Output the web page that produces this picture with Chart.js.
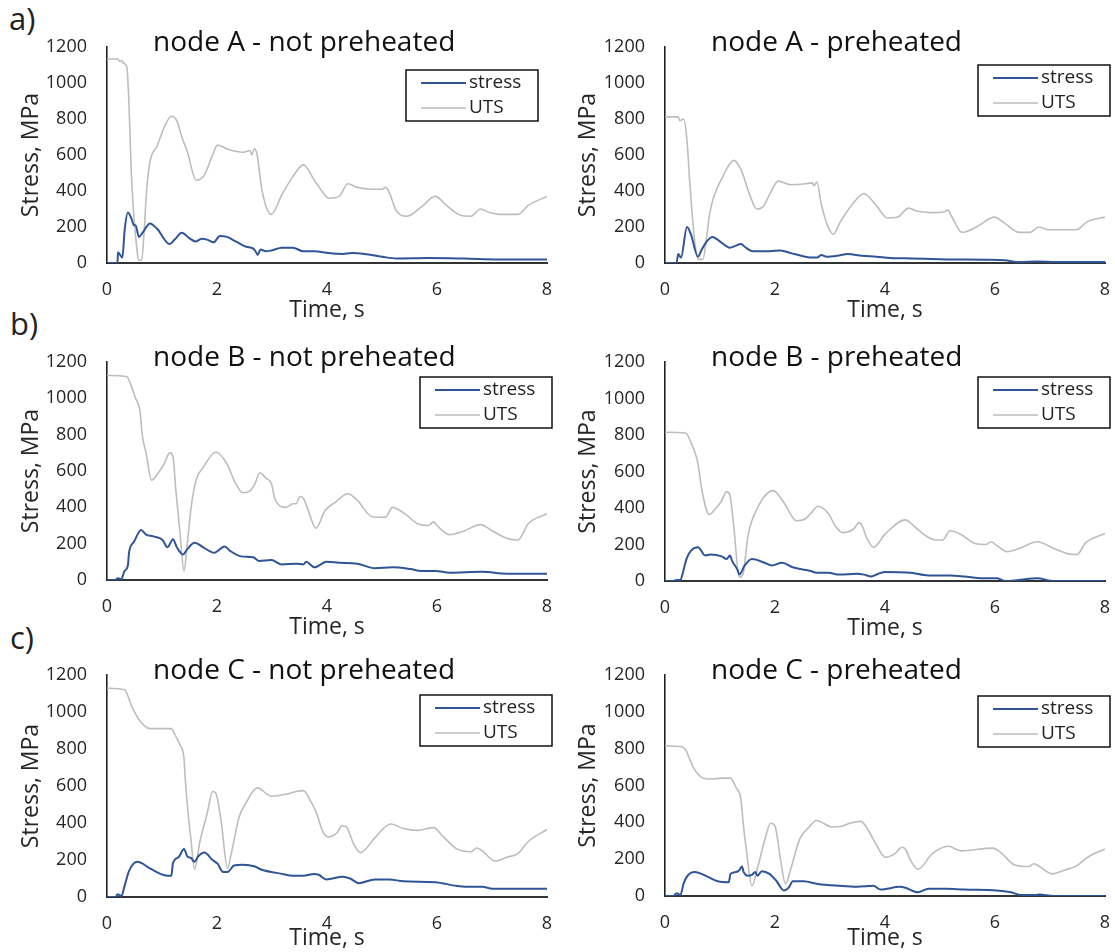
<!DOCTYPE html>
<html>
<head>
<meta charset="utf-8">
<script src="https://cdn.jsdelivr.net/npm/chart.js@4.4.1/dist/chart.umd.min.js"></script>
<style>
  body { margin: 0; background: #fff; width: 1115px; height: 952px; position: relative; overflow: hidden; }
  canvas { position: absolute; }
  .tag { position: absolute; font-family: 'Open Sans', sans-serif; font-size: 31px; color: #222; line-height: 1; }
</style>
</head>
<body>
<div class="tag" style="left:9px;top:3px">a)</div>
<div class="tag" style="left:10px;top:308px">b)</div>
<div class="tag" style="left:10px;top:622px">c)</div>

<script>
// node A - not preheated
const tAnpUts = [0, 0.2, 0.23, 0.27, 0.3, 0.36, 0.39, 0.45, 0.55, 0.58, 0.63, 0.68, 0.72, 0.78, 0.91, 1.05, 1.17, 1.27, 1.36, 1.46, 1.62, 1.72, 1.79, 1.92, 2.01, 2.21, 2.47, 2.6, 2.63, 2.68, 2.73, 2.82, 2.99, 3.18, 3.38, 3.57, 3.77, 3.93, 4.03, 4.22, 4.38, 4.55, 4.81, 5.0, 5.06, 5.12, 5.26, 5.45, 5.71, 5.97, 6.17, 6.43, 6.62, 6.79, 6.95, 7.14, 7.47, 7.66, 8];
const vAnpUts = [1133, 1133, 1120, 1125, 1110, 1090, 950, 450, 60, 15, 15, 200, 400, 560, 650, 760, 815, 790, 700, 620, 460, 470, 500, 600, 655, 630, 615, 625, 600, 635, 600, 400, 270, 380, 480, 545, 460, 390, 360, 370, 440, 420, 410, 410, 420, 400, 290, 260, 310, 370, 320, 265, 260, 300, 280, 270, 270, 320, 370];
const tAnpStress = [0, 0.19, 0.2, 0.25, 0.28, 0.32, 0.38, 0.44, 0.49, 0.52, 0.58, 0.65, 0.78, 0.91, 1.14, 1.23, 1.36, 1.49, 1.61, 1.72, 1.82, 1.94, 2.05, 2.18, 2.34, 2.53, 2.66, 2.71, 2.74, 2.79, 2.89, 2.99, 3.18, 3.38, 3.57, 3.77, 4.03, 4.29, 4.45, 4.68, 5.0, 5.26, 5.84, 6.49, 7.14, 8];
const vAnpStress = [0, 0, 60, 40, 30, 180, 280, 250, 210, 210, 145, 170, 220, 190, 105, 130, 168, 140, 120, 135, 130, 115, 150, 145, 120, 90, 80, 60, 45, 75, 65, 70, 85, 85, 65, 65, 55, 50, 55, 50, 35, 25, 28, 25, 20, 20];

// node A - preheated
const tApUts = [0, 0.24, 0.27, 0.34, 0.4, 0.45, 0.53, 0.6, 0.69, 0.76, 0.81, 0.89, 1.05, 1.25, 1.38, 1.54, 1.67, 1.8, 1.9, 2.06, 2.29, 2.55, 2.68, 2.71, 2.76, 2.84, 2.94, 3.06, 3.19, 3.39, 3.62, 3.84, 4.04, 4.23, 4.43, 4.56, 4.82, 5.08, 5.14, 5.21, 5.4, 5.66, 5.99, 6.18, 6.44, 6.64, 6.8, 6.96, 7.48, 7.68, 8];
const vApUts = [812, 812, 790, 800, 680, 450, 150, 20, 20, 150, 270, 370, 480, 570, 520, 380, 300, 320, 380, 455, 435, 440, 445, 430, 450, 330, 220, 160, 230, 320, 385, 320, 250, 255, 305, 290, 280, 285, 295, 260, 170, 200, 255, 220, 170, 170, 200, 185, 185, 230, 255];
const tApStress = [0, 0.21, 0.24, 0.29, 0.4, 0.47, 0.6, 0.66, 0.76, 0.86, 1.02, 1.18, 1.28, 1.38, 1.47, 1.6, 1.9, 2.1, 2.29, 2.55, 2.68, 2.77, 2.84, 2.94, 3.13, 3.32, 3.58, 3.84, 4.1, 4.49, 5.14, 5.79, 6.18, 6.44, 6.77, 7.1, 8];
const vApStress = [0, 0, 50, 30, 200, 160, 35, 70, 120, 145, 115, 85, 95, 105, 85, 65, 65, 70, 55, 35, 30, 30, 45, 35, 40, 50, 40, 35, 28, 25, 20, 18, 15, 5, 8, 5, 5];

// node B - not preheated
const tBnpUts = [0, 0.36, 0.4, 0.52, 0.6, 0.64, 0.71, 0.81, 0.91, 1.04, 1.14, 1.2, 1.25, 1.33, 1.4, 1.46, 1.53, 1.62, 1.75, 1.98, 2.18, 2.34, 2.47, 2.6, 2.69, 2.78, 2.89, 2.99, 3.05, 3.25, 3.38, 3.44, 3.51, 3.57, 3.64, 3.8, 3.96, 4.16, 4.38, 4.55, 4.81, 5.06, 5.19, 5.39, 5.65, 5.84, 5.94, 6.0, 6.23, 6.49, 6.79, 7.01, 7.27, 7.47, 7.66, 8];
const vBnpUts = [1126, 1120, 1100, 1000, 930, 800, 700, 550, 580, 640, 700, 680, 500, 250, 50, 200, 400, 550, 620, 705, 640, 530, 480, 490, 530, 590, 560, 530, 450, 400, 420, 420, 460, 450, 400, 285, 380, 430, 475, 440, 350, 345, 400, 370, 310, 300, 320, 300, 250, 270, 305, 270, 230, 220, 310, 365];
const tBnpStress = [0, 0.16, 0.19, 0.26, 0.32, 0.38, 0.4, 0.49, 0.62, 0.71, 0.84, 1.01, 1.1, 1.2, 1.27, 1.38, 1.46, 1.59, 1.75, 1.95, 2.14, 2.24, 2.44, 2.66, 2.76, 2.99, 3.18, 3.44, 3.57, 3.62, 3.77, 3.99, 4.22, 4.55, 4.87, 5.19, 5.52, 5.71, 5.97, 6.23, 6.82, 7.27, 8];
const vBnpStress = [0, 0, 10, 5, 50, 80, 150, 210, 275, 250, 240, 220, 180, 225, 180, 140, 170, 205, 180, 150, 185, 160, 130, 125, 105, 110, 85, 90, 85, 100, 70, 100, 95, 90, 65, 70, 60, 50, 50, 40, 45, 35, 35];

// node B - preheated
const tBpUts = [0, 0.38, 0.47, 0.57, 0.6, 0.67, 0.8, 0.93, 1.03, 1.12, 1.18, 1.25, 1.35, 1.42, 1.51, 1.68, 1.97, 2.16, 2.39, 2.55, 2.65, 2.78, 2.97, 3.1, 3.23, 3.43, 3.53, 3.59, 3.66, 3.79, 4.01, 4.37, 4.53, 4.73, 4.92, 5.05, 5.18, 5.38, 5.64, 5.83, 5.93, 6.03, 6.22, 6.42, 6.77, 7.06, 7.32, 7.49, 7.65, 8];
const vBpUts = [815, 810, 760, 680, 640, 500, 365, 400, 440, 490, 470, 300, 20, 40, 250, 400, 495, 430, 330, 340, 370, 410, 370, 300, 265, 285, 320, 300, 240, 185, 260, 335, 300, 250, 225, 225, 275, 255, 205, 200, 215, 195, 160, 175, 215, 180, 150, 145, 210, 260];
const tBpStress = [0, 0.15, 0.21, 0.28, 0.32, 0.39, 0.47, 0.6, 0.73, 0.83, 1.03, 1.12, 1.18, 1.22, 1.32, 1.35, 1.45, 1.58, 1.81, 1.94, 2.13, 2.32, 2.65, 2.75, 2.97, 3.17, 3.49, 3.62, 3.75, 3.88, 4.01, 4.47, 4.79, 5.18, 5.44, 5.77, 6.03, 6.19, 6.42, 6.77, 7.06, 8];
const vBpStress = [0, 0, 5, 5, 40, 120, 165, 185, 140, 145, 135, 120, 140, 110, 60, 35, 85, 120, 100, 85, 100, 75, 55, 45, 45, 35, 40, 35, 25, 40, 50, 45, 30, 30, 25, 15, 15, 0, 5, 15, 0, 0];

// node C - not preheated
const tCnpUts = [0, 0.32, 0.45, 0.58, 0.78, 0.97, 1.17, 1.23, 1.33, 1.4, 1.42, 1.46, 1.53, 1.59, 1.69, 1.82, 1.92, 1.98, 2.08, 2.19, 2.27, 2.4, 2.53, 2.73, 2.99, 3.25, 3.44, 3.57, 3.7, 3.8, 3.93, 4.03, 4.19, 4.27, 4.35, 4.48, 4.61, 4.87, 5.16, 5.39, 5.65, 5.94, 6.1, 6.36, 6.62, 6.72, 6.82, 7.05, 7.27, 7.47, 7.66, 8];
const vCnpUts = [1129, 1120, 1030, 960, 910, 910, 910, 880, 820, 750, 650, 500, 300, 150, 300, 450, 570, 560, 400, 155, 250, 430, 510, 590, 545, 555, 570, 575, 520, 460, 350, 325, 350, 385, 380, 290, 240, 320, 395, 370, 360, 375, 330, 260, 245, 265, 250, 195, 215, 235, 300, 365];
const tCnpStress = [0, 0.16, 0.19, 0.26, 0.32, 0.4, 0.55, 0.78, 0.97, 1.1, 1.17, 1.2, 1.3, 1.4, 1.46, 1.53, 1.59, 1.66, 1.77, 1.92, 2.01, 2.11, 2.19, 2.31, 2.47, 2.69, 2.79, 3.18, 3.38, 3.57, 3.77, 3.85, 3.99, 4.29, 4.42, 4.58, 4.87, 5.13, 5.39, 5.97, 6.36, 6.69, 6.82, 7.01, 8];
const vCnpStress = [0, 0, 15, 5, 60, 140, 190, 155, 125, 115, 115, 185, 215, 260, 220, 210, 190, 220, 240, 200, 180, 135, 135, 170, 175, 165, 150, 125, 115, 115, 125, 120, 95, 110, 100, 75, 95, 95, 85, 80, 60, 55, 55, 45, 45];

// node C - preheated
const tCpUts = [0, 0.31, 0.38, 0.51, 0.64, 0.83, 1.03, 1.19, 1.29, 1.38, 1.42, 1.48, 1.58, 1.68, 1.81, 1.92, 2.0, 2.1, 2.19, 2.29, 2.45, 2.62, 2.75, 3.04, 3.23, 3.36, 3.56, 3.69, 3.82, 4.01, 4.18, 4.31, 4.37, 4.47, 4.6, 4.86, 5.15, 5.38, 5.96, 6.09, 6.35, 6.61, 6.71, 6.81, 7.04, 7.26, 7.49, 7.68, 8];
const vCpUts = [815, 810, 790, 700, 650, 635, 640, 640, 590, 525, 400, 250, 55, 150, 300, 395, 380, 200, 65, 150, 310, 375, 410, 375, 380, 395, 405, 360, 290, 210, 230, 265, 255, 190, 145, 230, 270, 245, 260, 240, 170, 160, 175, 160, 120, 140, 165, 210, 255];
const tCpStress = [0, 0.15, 0.21, 0.28, 0.34, 0.41, 0.54, 0.77, 0.96, 1.16, 1.19, 1.29, 1.35, 1.4, 1.43, 1.51, 1.58, 1.64, 1.68, 1.76, 1.9, 2.03, 2.16, 2.26, 2.32, 2.52, 2.78, 3.17, 3.49, 3.79, 3.92, 4.27, 4.37, 4.6, 4.79, 5.12, 5.44, 6.03, 6.29, 6.48, 6.74, 6.81, 7.06, 8];
const vCpStress = [0, 0, 15, 5, 70, 110, 130, 105, 80, 75, 120, 130, 140, 160, 130, 110, 115, 130, 110, 135, 120, 80, 30, 50, 80, 80, 65, 55, 50, 55, 35, 50, 45, 20, 40, 40, 35, 30, 20, 5, 5, 8, 0, 0];

const yTicks = [0, 200, 400, 600, 800, 1000, 1200];
const xTicks = [0, 2, 4, 6, 8];

const zip = (t, v) => t.map((x, i) => ({ x: x, y: v[i] }));

Chart.defaults.font.family = "'Open Sans', sans-serif";
Chart.defaults.color = '#262626';

// title + boxed legend drawn inside the plot, like the Excel original
const panelDeco = {
    id: 'panelDeco',
    afterDraw(chart, args, opts) {
        const { ctx, chartArea } = chart;
        ctx.save();
        ctx.fillStyle = '#111';
        ctx.font = "28px 'Open Sans'";
        ctx.textAlign = 'left';
        ctx.textBaseline = 'middle';
        ctx.fillText(opts.title, chartArea.left + 46, chartArea.top - 4);

        const w = 132, h = 51;
        const x = chartArea.right + opts.legendDx - w;
        const y = chartArea.top + opts.legendDy;
        ctx.fillStyle = '#fff';
        ctx.fillRect(x, y, w, h);
        ctx.strokeStyle = '#111';
        ctx.lineWidth = 1.5;
        ctx.strokeRect(x, y, w, h);
        ctx.font = "19px 'Open Sans'";
        chart.data.datasets.forEach((ds, i) => {
            const ly = y + 13 + i * 25;
            ctx.strokeStyle = ds.borderColor;
            ctx.lineWidth = ds.borderWidth;
            ctx.beginPath();
            ctx.moveTo(x + 15, ly);
            ctx.lineTo(x + 60, ly);
            ctx.stroke();
            ctx.fillStyle = '#222';
            ctx.fillText(ds.label, x + 63, ly);
        });
        ctx.restore();
    }
};

const panels = [
    { title: 'node A - not preheated', col: 0, plot: [107, 47, 547, 263], legend: [-9, 23], stress: zip(tAnpStress, vAnpStress), uts: zip(tAnpUts, vAnpUts) },
    { title: 'node A - preheated', col: 1, plot: [665, 47, 1105, 263], legend: [5, 18], stress: zip(tApStress, vApStress), uts: zip(tApUts, vApUts) },
    { title: 'node B - not preheated', col: 0, plot: [107, 362, 547, 580], legend: [5, 15], stress: zip(tBnpStress, vBnpStress), uts: zip(tBnpUts, vBnpUts) },
    { title: 'node B - preheated', col: 1, plot: [665, 362, 1105, 581], legend: [5, 15], stress: zip(tBpStress, vBpStress), uts: zip(tBpUts, vBpUts) },
    { title: 'node C - not preheated', col: 0, plot: [107, 675, 547, 897], legend: [5, 20], stress: zip(tCnpStress, vCnpStress), uts: zip(tCnpUts, vCnpUts) },
    { title: 'node C - preheated', col: 1, plot: [665, 675, 1105, 896], legend: [5, 21], stress: zip(tCpStress, vCpStress), uts: zip(tCpUts, vCpUts) }
];

// column left edges; the canvas runs 26px past the plot so the last x label never squeezes the plot
const colLefts = [0, 557];
const rightRoom = 26;
const tickPad = 16;

panels.forEach(p => {
    const colLeft = colLefts[p.col];
    const [pl, pt, pr, pb] = p.plot;
    const top = pt - 50;
    const bottom = Math.min(pb + 62, 952);
    const xAxisH = bottom - pb;
    const titleOffset = Math.min(47, xAxisH - 14);

    const canvas = document.createElement('canvas');
    canvas.style.left = colLeft + 'px';
    canvas.style.top = top + 'px';
    canvas.width = pr + rightRoom - colLeft;
    canvas.height = bottom - top;
    document.body.appendChild(canvas);

    new Chart(canvas.getContext('2d'), {
        type: 'line',
        data: {
            datasets: [{
                label: 'stress',
                data: p.stress,
                borderColor: '#2F5597',
                backgroundColor: '#2F5597',
                borderWidth: 2
            }, {
                label: 'UTS',
                data: p.uts,
                borderColor: '#BDBDBD',
                backgroundColor: '#BDBDBD',
                borderWidth: 1.6
            }]
        },
        options: {
            responsive: false,
            animation: false,
            parsing: false,
            elements: {
                point: { radius: 0 },
                line: { cubicInterpolationMode: 'monotone' }
            },
            layout: { padding: { top: 50, right: rightRoom, left: 0, bottom: 0 } },
            plugins: {
                legend: { display: false },
                tooltip: { enabled: false },
                panelDeco: { title: p.title, legendDx: p.legend[0], legendDy: p.legend[1] }
            },
            scales: {
                x: {
                    type: 'linear',
                    min: 0,
                    max: 8,
                    afterBuildTicks: s => { s.ticks = xTicks.map(v => ({ value: v })); },
                    afterFit: s => { s.height = xAxisH; },
                    grid: { display: false, drawTicks: false },
                    border: { display: true, color: '#333', width: 2 },
                    ticks: { font: { size: 18 }, padding: tickPad, maxRotation: 0, callback: v => String(v) },
                    title: { display: true, text: 'Time, s', font: { size: 23 }, padding: { top: 0, bottom: xAxisH - titleOffset - 13.8 } }
                },
                y: {
                    min: 0,
                    max: 1200,
                    afterBuildTicks: s => { s.ticks = yTicks.map(v => ({ value: v })); },
                    afterFit: s => { s.width = pl - colLeft; },
                    grid: { display: false, drawTicks: false },
                    border: { display: true, color: '#222', width: 1.6 },
                    ticks: { font: { size: 18 }, padding: 20, callback: v => String(v) },
                    title: { display: true, text: 'Stress, MPa', font: { size: 23 }, padding: { top: 18, bottom: 0 } }
                }
            }
        },
        plugins: [panelDeco]
    });
});
</script>
</body>
</html>
